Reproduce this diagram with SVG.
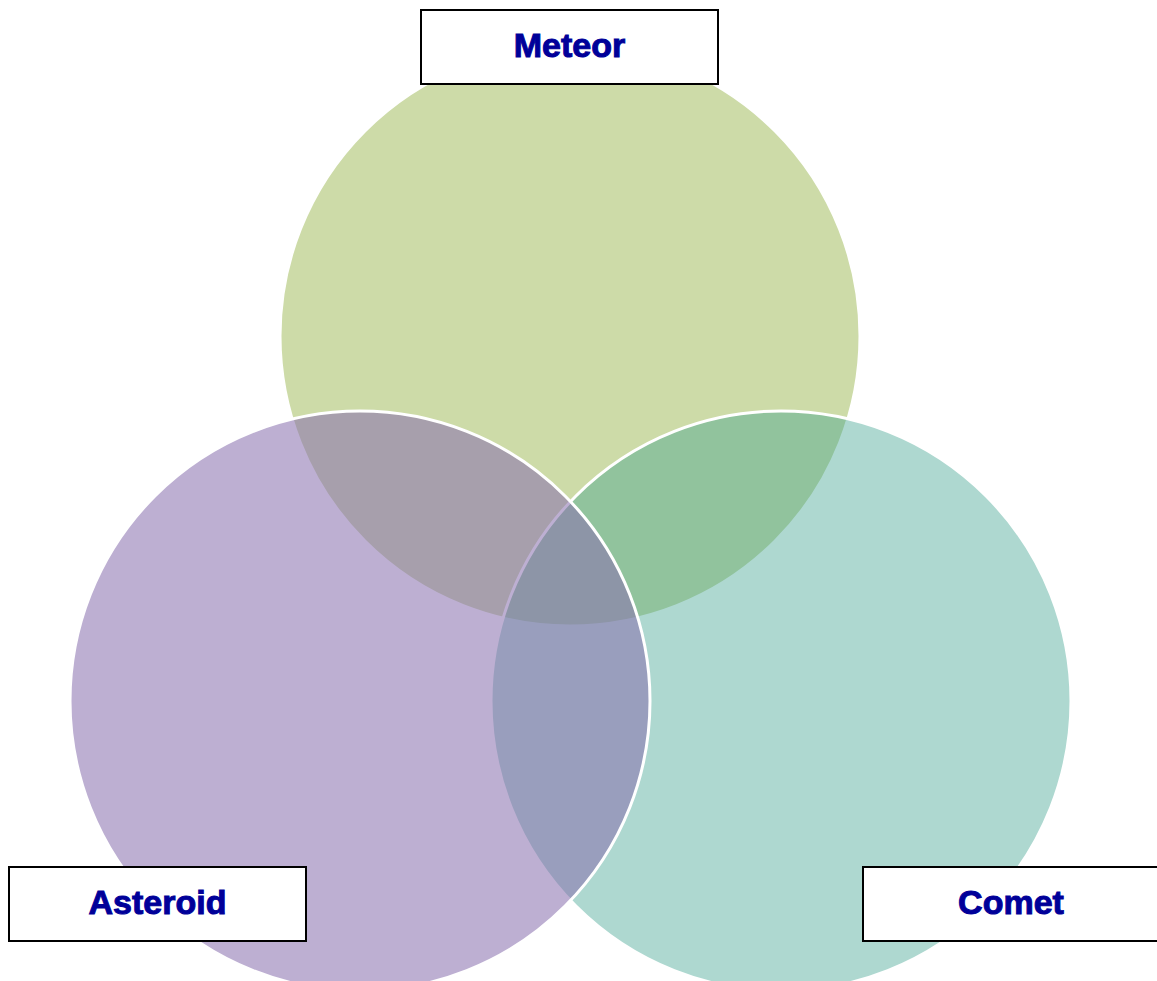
<svg xmlns="http://www.w3.org/2000/svg" width="1157" height="981" viewBox="0 0 1157 981">
  <style>
    .ring { stroke: #ffffff; stroke-width: 3; }
    .box { fill: #ffffff; stroke: #000000; stroke-width: 2; }
    .label { font-family: "Liberation Sans", Arial, sans-serif; font-weight: bold; font-size: 34px; fill: #000099; stroke: #000099; stroke-width: 1; text-anchor: middle; }
  </style>
  <rect x="0" y="0" width="1157" height="981" fill="#ffffff"/>
  <g id="circles">
    <circle id="circle-meteor" class="ring" cx="570" cy="336" r="290" fill="#cddba8"/>
    <circle id="circle-comet" class="ring" cx="781" cy="701" r="290" fill="#3ea28f" fill-opacity="0.42"/>
    <circle id="circle-asteroid" class="ring" cx="360" cy="701" r="290" fill="#8970af" fill-opacity="0.56"/>
  </g>
  <g id="node-meteor">
    <rect class="box" x="421" y="10" width="297" height="74"/>
    <text class="label" x="569.5" y="57">Meteor</text>
  </g>
  <g id="node-asteroid">
    <rect class="box" x="9" y="867" width="297" height="74"/>
    <text class="label" x="157.5" y="914">Asteroid</text>
  </g>
  <g id="node-comet">
    <rect class="box" x="863" y="867" width="300" height="74"/>
    <text class="label" x="1011" y="914">Comet</text>
  </g>
  <g id="connectors"></g>
</svg>
